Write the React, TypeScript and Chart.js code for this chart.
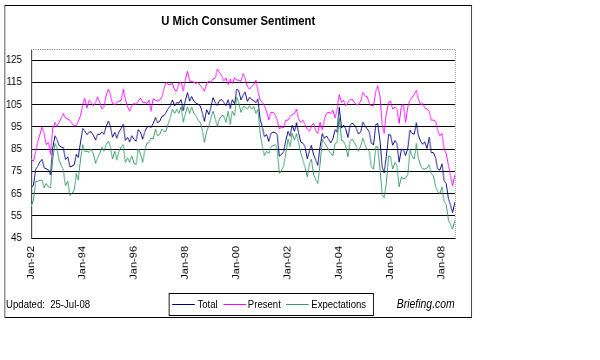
import { useEffect, useRef } from "react";
import { Chart, registerables } from "chart.js";

Chart.register(...registerables);

// ---- categories (monthly, Jan-92 .. Jul-08) ----
const monthNames = ["Jan", "Feb", "Mar", "Apr", "May", "Jun", "Jul", "Aug", "Sep", "Oct", "Nov", "Dec"];
const firstYear = 1992;
const monthCount = 199;
const categories: string[] = [];
for (let i = 0; i < monthCount; i++) {
  const y = firstYear + Math.floor(i / 12);
  categories.push(monthNames[i % 12] + "-" + String(y % 100).padStart(2, "0"));
}

// ---- tick labels ----
const xTickLabels = ["Jan-92", "Jan-94", "Jan-96", "Jan-98", "Jan-00", "Jan-02", "Jan-04", "Jan-06", "Jan-08"];
const yTickValues = [45, 55, 65, 75, 85, 95, 105, 115, 125];
const yMin = 45;
const yMax = 130;

// ---- series ----
const total = [
  67.5, 68.8, 76.0, 77.2, 79.2, 80.4, 76.6, 76.1, 75.6, 73.3, 85.3, 91.0,
  89.3, 86.6, 85.9, 85.6, 80.3, 81.5, 77.0, 77.3, 77.9, 82.7, 81.2, 88.2,
  94.3, 93.2, 91.5, 92.6, 92.8, 91.2, 89.0, 91.7, 91.5, 92.7, 91.6, 95.1,
  97.6, 95.1, 90.3, 92.5, 89.8, 92.7, 94.4, 96.2, 88.9, 90.2, 88.2, 91.0,
  89.3, 88.5, 93.7, 92.7, 89.4, 92.4, 94.7, 95.3, 94.7, 96.5, 99.2, 96.9,
  97.4, 99.7, 100.0, 101.4, 103.2, 104.5, 107.1, 104.4, 106.0, 105.6, 107.2, 102.1,
  106.6, 110.4, 106.5, 108.7, 106.5, 105.6, 105.2, 104.4, 100.9, 97.4, 102.7, 100.5,
  103.9, 108.1, 105.7, 104.6, 106.8, 107.3, 106.0, 104.5, 107.2, 103.2, 107.2, 105.4,
  112.0, 111.3, 107.1, 109.2, 110.7, 106.4, 108.3, 107.3, 106.8, 105.8, 107.6, 98.4,
  94.7, 90.6, 91.5, 88.4, 92.0, 92.6, 92.4, 91.5, 81.8, 82.7, 83.9, 88.8,
  93.0, 90.7, 95.7, 93.0, 96.9, 92.4, 88.1, 87.6, 86.1, 80.6, 84.2, 86.7,
  82.4, 79.9, 77.6, 86.0, 92.1, 89.7, 90.9, 89.3, 87.7, 89.6, 93.7, 92.6,
  103.8, 94.4, 95.8, 94.2, 90.2, 95.6, 96.7, 95.9, 94.2, 91.7, 92.8, 97.1,
  95.5, 94.1, 92.6, 87.7, 86.9, 96.0, 96.5, 89.1, 76.9, 74.2, 81.6, 91.5,
  91.2, 86.7, 88.9, 87.4, 79.1, 84.9, 84.7, 82.0, 85.4, 93.6, 92.1, 91.7,
  96.9, 91.3, 88.4, 87.1, 88.3, 85.3, 90.4, 83.4, 83.4, 80.9, 76.1, 75.5,
  78.4, 70.8, 69.5, 62.6, 59.8, 56.4, 61.2,
];

const present = [
  80.5, 79.5, 84, 88, 91.5, 95, 92, 87, 88, 82.5, 94, 97,
  95, 97, 99, 101, 99, 98.5, 98, 96.5, 95.5, 95.5, 97.5, 100,
  105, 108, 103.5, 107, 106, 104.5, 106, 108.5, 106, 103, 104, 109,
  112, 109.5, 105.5, 105, 106, 106.5, 107, 112, 107.5, 104, 102, 104.5,
  105.5, 105, 106.5, 108, 106, 106, 105.5, 107, 102, 107.5, 107, 106.5,
  107, 108.5, 112, 115, 114, 114, 114.5, 111.5, 111, 114.5, 115, 111,
  116, 120, 115.5, 115.5, 115, 114.5, 115, 113.5, 112.5, 111, 114.5, 115.5,
  115, 116.5, 117, 121, 119.5, 118, 115.5, 117, 114, 116.5, 114.5, 117,
  116, 116, 115.5, 119, 117, 113, 112, 113, 114, 116, 111, 107,
  106, 104.5, 102, 98, 101.5, 101.5, 100.5, 98, 94, 95, 94.5, 98,
  98, 99.5, 100.5, 101, 103, 98.5, 97, 98, 96, 94, 93, 95.5,
  96.5, 93, 92, 97, 93.5, 98, 101, 101.5, 101, 102.5, 99, 103,
  109.5, 106, 107, 104.5, 106, 107, 107.5, 106, 105, 105, 106.5, 110.5,
  109, 108.5, 105.5, 104.5, 104.5, 111, 113.5, 109, 96, 92, 101, 106,
  106.5, 103, 104, 103, 96.5, 104.5, 105, 97, 104, 107, 108, 109.5,
  111.5, 107.5, 105, 105.5, 103.5, 103, 102, 98, 98, 97.5, 93.5, 91,
  92, 85, 83, 77.5, 73, 68.5, 73.5,
];

const expectations = [
  59, 62, 70.5, 70.5, 71, 71, 67.5, 69.5, 68, 67.5, 80, 87.5,
  85.5, 80, 77.5, 75.5, 68.5, 70.5, 64, 65, 66.5, 74, 71, 80.5,
  87, 84, 84, 83.5, 85, 83, 78.5, 81, 83, 86, 84, 87,
  88.5, 86, 80.5, 84, 80, 84, 86, 87, 79, 81, 79, 82,
  78.5, 78, 85, 83, 79, 84, 87.5, 88, 90, 89.5, 94, 91,
  91.5, 94, 93, 93, 96.5, 99, 103, 101, 103, 101, 104, 97,
  100.5, 104, 101, 104, 101, 100, 98, 97, 93, 88, 93, 95.5,
  99, 102, 98.5, 95, 98.5, 100, 100, 97, 102, 96, 102, 100,
  108.5, 106, 101.5, 104, 104, 103, 104.5, 103, 104, 101, 103, 92,
  86, 82, 84, 83, 86, 86.5, 87, 85, 74, 75.5, 77.5, 83,
  89.5, 86, 92, 89, 92, 88, 83, 80, 77, 72.5, 78.5, 80.5,
  73.5, 71, 69.5, 78, 89.5, 88, 86.5, 84.5, 83, 82, 87.5, 88,
  99, 89, 88.5, 86.5, 81.5, 88.5, 89.5, 88, 86, 84, 86.5, 90,
  87, 85, 84, 77, 76, 86, 86, 76.5, 64.5, 63, 69.5, 82,
  81.5, 76, 79, 77.5, 68, 72.5, 71.5, 72, 73.5, 85, 82, 80.5,
  87.5, 81, 77.5, 76, 76, 76.5, 78, 74, 73, 68, 66, 65,
  68, 61.5, 60, 53, 51, 49, 53,
];

const seriesNames = ["Total", "Present", "Expectations"];
const seriesColors = ["#000080", "#FF00FF", "#339966"];

const titleText = "U Mich Consumer Sentiment";
const updatedText = "Updated:  25-Jul-08";
const sourceText = "Briefing.com";

const FONT = 'Arial, "Liberation Sans", sans-serif';

// The drawing is laid out on a 690px-wide stage and squeezed to the 600px page width.
const STAGE_W = 690;
const STAGE_H = 360;
const SQUEEZE = 600 / STAGE_W;

const plotFrame = {
  id: "plotFrame",
  afterDraw(chart: any) {
    const { ctx, chartArea: a } = chart;
    ctx.save();
    ctx.strokeStyle = "#808080";
    ctx.lineWidth = 1;
    ctx.setLineDash([1, 1]);
    ctx.beginPath();
    ctx.moveTo(a.left, Math.round(a.top) + 0.5);
    ctx.lineTo(Math.round(a.right) + 0.5, Math.round(a.top) + 0.5);
    ctx.lineTo(Math.round(a.right) + 0.5, a.bottom);
    ctx.stroke();
    ctx.restore();
  },
};

export default function App() {
  const ref = useRef<HTMLCanvasElement>(null);

  useEffect(() => {
    const seriesData = [total, present, expectations];
    const chart = new Chart(ref.current as HTMLCanvasElement, {
      type: "line",
      data: {
        labels: categories,
        datasets: seriesNames.map((name, k) => ({
          label: name,
          data: seriesData[k],
          borderColor: seriesColors[k],
          backgroundColor: seriesColors[k],
          borderWidth: 1,
          pointRadius: 0,
          tension: 0,
          fill: false,
          order: 3 - k,
        })),
      },
      options: {
        responsive: false,
        animation: false,
        devicePixelRatio: 1,
        layout: { padding: { left: 0, top: 49, right: STAGE_W - 523, bottom: 0 } },
        plugins: {
          legend: { display: false },
          tooltip: { enabled: false },
          title: { display: false },
        },
        scales: {
          x: {
            type: "category",
            grid: { display: false, drawTicks: false },
            border: { display: true, color: "#000", width: 1 },
            ticks: {
              autoSkip: false,
              minRotation: 90,
              maxRotation: 90,
              padding: 8,
              color: "#000",
              font: { family: FONT, size: 11 },
              callback: (_v: any, index: number) => {
                const l = categories[index];
                return xTickLabels.includes(l) ? l : null;
              },
            },
            afterFit: (s: any) => {
              s.height = STAGE_H - 238;
            },
          },
          y: {
            min: yMin,
            max: yMax,
            grid: { color: "#000", lineWidth: 1, drawTicks: false },
            border: { display: true, color: "#000", width: 1 },
            ticks: {
              padding: 11,
              color: "#000",
              font: { family: FONT, size: 11 },
            },
            afterBuildTicks: (s: any) => {
              s.ticks = yTickValues.map((v) => ({ value: v }));
            },
            afterFit: (s: any) => {
              s.width = 36;
            },
          },
        },
      },
      plugins: [plotFrame],
    } as any);
    return () => chart.destroy();
  }, []);

  const legendItems = [
    { swatch: 198, text: 227 },
    { swatch: 257, text: 285 },
    { swatch: 329, text: 358 },
  ];

  return (
    <div
      style={{
        position: "fixed",
        left: 0,
        top: 0,
        width: 600,
        height: 360,
        overflow: "hidden",
        background: "#fff",
      }}
    >
      <div
        style={{
          position: "absolute",
          left: 0,
          top: 0,
          width: STAGE_W,
          height: STAGE_H,
          transform: `scaleX(${SQUEEZE})`,
          transformOrigin: "0 0",
          fontFamily: FONT,
          color: "#000",
        }}
      >
        <canvas
          ref={ref}
          width={STAGE_W}
          height={STAGE_H}
          style={{ display: "block", width: STAGE_W, height: STAGE_H }}
        />
        <div
          style={{
            position: "absolute",
            left: 5,
            top: 5,
            width: 538,
            height: 313,
            border: "1px solid #000",
            boxSizing: "border-box",
            pointerEvents: "none",
          }}
        />
        <div
          style={{
            position: "absolute",
            left: 5,
            top: 13,
            width: 538,
            textAlign: "center",
            fontWeight: "bold",
            fontSize: 13,
            lineHeight: "16px",
            whiteSpace: "pre",
          }}
        >
          {titleText}
        </div>
        <div
          style={{
            position: "absolute",
            left: 7,
            top: 297,
            fontSize: 11,
            lineHeight: "14px",
            whiteSpace: "pre",
          }}
        >
          {updatedText}
        </div>
        <div
          style={{
            position: "absolute",
            left: 194,
            top: 293,
            width: 236,
            height: 23,
            border: "1px solid #000",
            boxSizing: "border-box",
            background: "#fff",
          }}
        />
        {seriesNames.map((name, k) => (
          <div key={name}>
            <div
              style={{
                position: "absolute",
                left: legendItems[k].swatch,
                top: 304,
                width: 26,
                height: 1,
                background: seriesColors[k],
              }}
            />
            <div
              style={{
                position: "absolute",
                left: legendItems[k].text,
                top: 297,
                fontSize: 11,
                lineHeight: "14px",
                whiteSpace: "pre",
              }}
            >
              {name}
            </div>
          </div>
        ))}
        <div
          style={{
            position: "absolute",
            right: STAGE_W - 523,
            top: 297,
            fontSize: 12,
            fontStyle: "italic",
            lineHeight: "15px",
            whiteSpace: "pre",
          }}
        >
          {sourceText}
        </div>
      </div>
    </div>
  );
}
